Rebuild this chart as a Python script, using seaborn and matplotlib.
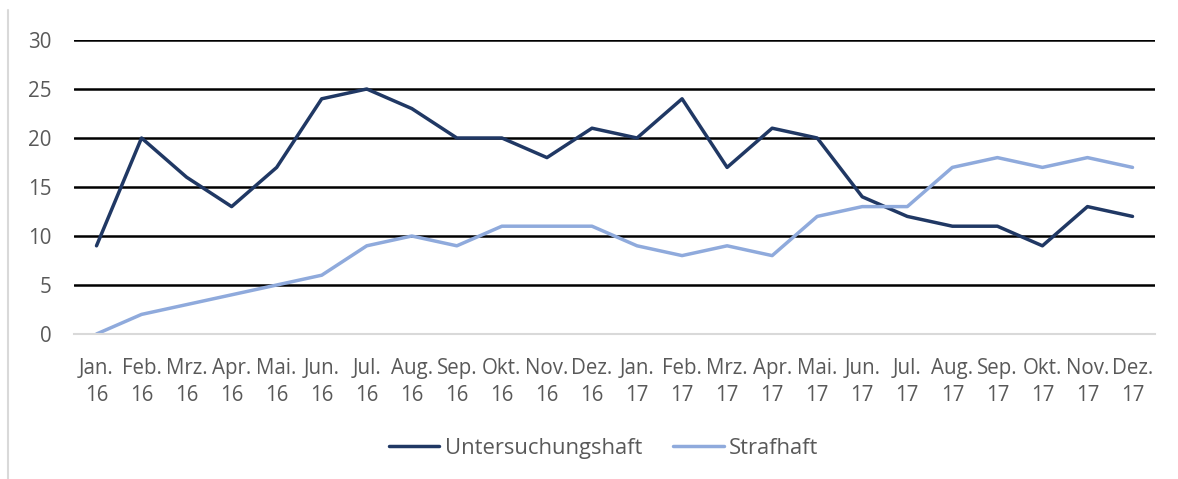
import numpy as np
import pandas as pd
import seaborn as sns
import matplotlib.pyplot as plt
from matplotlib.lines import Line2D

monate = ['Jan.', 'Feb.', 'Mrz.', 'Apr.', 'Mai.', 'Jun.', 'Jul.', 'Aug.',
          'Sep.', 'Okt.', 'Nov.', 'Dez.']
jahre = ['16', '17']
labels = [m + '\n' + j for j in jahre for m in monate]

untersuchungshaft = [9, 20, 16, 13, 17, 24, 25, 23, 20, 20, 18, 21,
                     20, 24, 17, 21, 20, 14, 12, 11, 11, 9, 13, 12]
strafhaft = [0, 2, 3, 4, 5, 6, 9, 10, 9, 11, 11, 11,
             9, 8, 9, 8, 12, 13, 13, 17, 18, 17, 18, 17]

df = pd.DataFrame({
    'monat': labels * 2,
    'wert': untersuchungshaft + strafhaft,
    'art': ['Untersuchungshaft'] * len(labels) + ['Strafhaft'] * len(labels),
})

sns.set_style('white')
plt.rcParams['font.family'] = ['Open Sans', 'DejaVu Sans']

fig = plt.figure(figsize=(11.78, 4.79), dpi=100)
ax = fig.add_axes([0.0628, 0.3027, 0.9177, 0.6138])

farben = {'Untersuchungshaft': '#203864', 'Strafhaft': '#8FAADC'}
sns.lineplot(data=df, x='monat', y='wert', hue='art', palette=farben,
             linewidth=2.5, ax=ax, sort=False)

ax.set_ylim(0, 30)
ax.set_xlim(-0.5, len(labels) - 0.5)
ax.set_yticks(range(0, 31, 5))
ax.set_xticks(range(len(labels)))
ax.set_xticklabels(labels)
ax.set_xticks(np.arange(-0.5, len(labels), 1), minor=True)
ax.tick_params(axis='x', which='major', length=0, pad=17, labelsize=14.8,
               colors='#595959')
ax.tick_params(axis='x', which='minor', length=6, width=1.2, color='#D9D9D9')
ax.tick_params(axis='y', length=0, pad=16, labelsize=14.8, colors='#595959')
for t in ax.get_xticklabels():
    t.set_linespacing(1.4)

ax.grid(False)
for y in range(5, 31, 5):
    ax.axhline(y, color='black', linewidth=1.8, zorder=0)
for s in ['top', 'right', 'left']:
    ax.spines[s].set_visible(False)
ax.spines['bottom'].set_color('#D9D9D9')
ax.spines['bottom'].set_linewidth(1.5)
ax.set_xlabel('')
ax.set_ylabel('')

ax.legend(loc='center', bbox_to_anchor=(0.49, -0.39), ncol=2, frameon=False,
          fontsize=15.8, handlelength=2.3, handletextpad=0.25, columnspacing=1.4,
          labelcolor='#595959')

fig.add_artist(Line2D([0.0068, 0.0068], [0.0, 0.98], color='#D9D9D9',
                      linewidth=1.5, transform=fig.transFigure))

fig.savefig('out.png', dpi=100)
